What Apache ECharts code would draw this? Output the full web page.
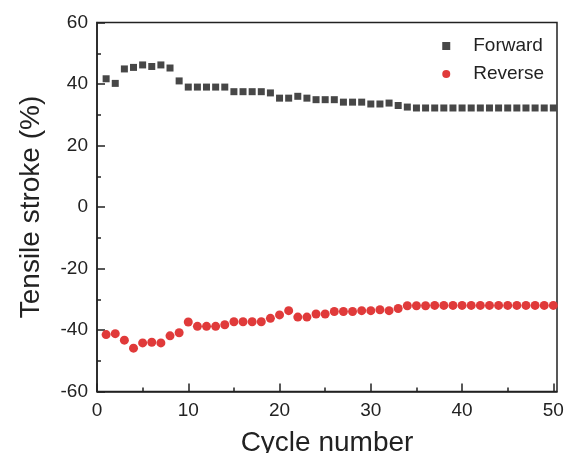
<!DOCTYPE html>
<html>
<head>
<meta charset="utf-8">
<script src="https://cdn.jsdelivr.net/npm/echarts@6/dist/echarts.min.js"></script>
<style>
  html, body { margin: 0; padding: 0; background: #fff; }
  #chart { width: 565px; height: 453px; }
</style>
</head>
<body>
<div id="chart"></div>
<script>
// Tensile stroke per cycle, forward and reverse actuation
const cycles = Array.from({ length: 50 }, (_, i) => i + 1);

const forward = [
  41.7, 40.2, 44.9, 45.4, 46.2, 45.7, 46.2, 45.2, 41.0, 39.0,
  39.0, 39.0, 39.0, 39.0, 37.5, 37.5, 37.5, 37.5, 37.1, 35.4,
  35.4, 36.0, 35.4, 34.9, 34.9, 34.9, 34.1, 34.1, 34.1, 33.5,
  33.5, 33.8, 33.0, 32.5, 32.2, 32.2, 32.2, 32.2, 32.2, 32.2,
  32.2, 32.2, 32.2, 32.2, 32.2, 32.2, 32.2, 32.2, 32.2, 32.2
];

const reverse = [
  -41.5, -41.2, -43.3, -45.9, -44.2, -44.0, -44.2, -41.9, -40.9, -37.4,
  -38.8, -38.8, -38.8, -38.3, -37.3, -37.3, -37.3, -37.3, -36.2, -35.1,
  -33.7, -35.8, -35.8, -34.8, -34.8, -34.0, -34.0, -34.0, -33.7, -33.7,
  -33.4, -33.7, -33.0, -32.1, -32.1, -32.1, -32.0, -32.0, -32.0, -32.0,
  -32.0, -32.0, -32.0, -32.0, -32.0, -32.0, -32.0, -32.0, -32.0, -32.0
];

const xMajorTicks = [0, 10, 20, 30, 40, 50];
const xMinorTicks = [5, 15, 25, 35, 45];

const seriesNames = ['Forward', 'Reverse'];

const ink = '#222';
const font = 'Liberation Sans, Arial, sans-serif';

const chart = echarts.init(document.getElementById('chart'), null, { renderer: 'canvas' });

chart.setOption({
  animation: false,
  backgroundColor: '#fff',
  textStyle: { fontFamily: font },
  grid: {
    left: 97, right: 8, top: 22.5, bottom: 61.5,
    outerBoundsMode: 'none',
    containLabel: false,
    show: true, borderColor: ink, borderWidth: 1.5, backgroundColor: 'transparent'
  },
  legend: {
    orient: 'vertical',
    right: 16,
    top: 31,
    itemWidth: 8,
    itemHeight: 8,
    itemGap: 8,
    textStyle: { fontSize: 19, color: ink, fontFamily: font, lineHeight: 20, padding: [0, 0, 0, 18] },
    data: [
      { name: seriesNames[0], icon: 'rect' },
      { name: seriesNames[1], icon: 'circle' }
    ]
  },
  xAxis: [
    {
      type: 'value',
      min: 0,
      max: 50.4,
      interval: 10,
      splitLine: { show: false },
      axisLine: { onZero: false, lineStyle: { color: ink, width: 1.5 } },
      axisTick: { inside: true, length: 8, customValues: xMajorTicks, lineStyle: { color: ink, width: 1.5 } },
      axisLabel: { customValues: xMajorTicks, fontSize: 19, color: ink, margin: 10, fontFamily: font },
      name: 'Cycle number',
      nameLocation: 'middle',
      nameGap: 38,
      nameTextStyle: { fontSize: 28, color: ink, fontFamily: font }
    },
    {
      type: 'value',
      position: 'bottom',
      min: 0,
      max: 50.4,
      interval: 10,
      splitLine: { show: false },
      axisLine: { show: false, onZero: false },
      axisTick: { inside: true, length: 4, customValues: xMinorTicks, lineStyle: { color: ink, width: 1.5 } },
      axisLabel: { show: false }
    }
  ],
  yAxis: {
    type: 'value',
    min: -60,
    max: 60,
    interval: 20,
    splitLine: { show: false },
    axisLine: { onZero: false, lineStyle: { color: ink, width: 1.5 } },
    axisTick: { inside: true, length: 8, lineStyle: { color: ink, width: 1.5 } },
    minorTick: { show: true, splitNumber: 2, length: 4, lineStyle: { color: ink, width: 1.5 } },
    axisLabel: { fontSize: 19, color: ink, margin: 9, fontFamily: font },
    name: 'Tensile stroke (%)',
    nameLocation: 'middle',
    nameGap: 52,
    nameTextStyle: { fontSize: 28, color: ink, fontFamily: font }
  },
  series: [
    {
      name: seriesNames[0],
      type: 'scatter',
      symbol: 'rect',
      symbolSize: 7,
      itemStyle: { color: '#474747', opacity: 1 },
      data: cycles.map((c, i) => [c, forward[i]])
    },
    {
      name: seriesNames[1],
      type: 'scatter',
      symbol: 'circle',
      symbolSize: 9,
      itemStyle: { color: '#e03a3a', opacity: 1 },
      data: cycles.map((c, i) => [c, reverse[i]])
    }
  ]
});
</script>
</body>
</html>
